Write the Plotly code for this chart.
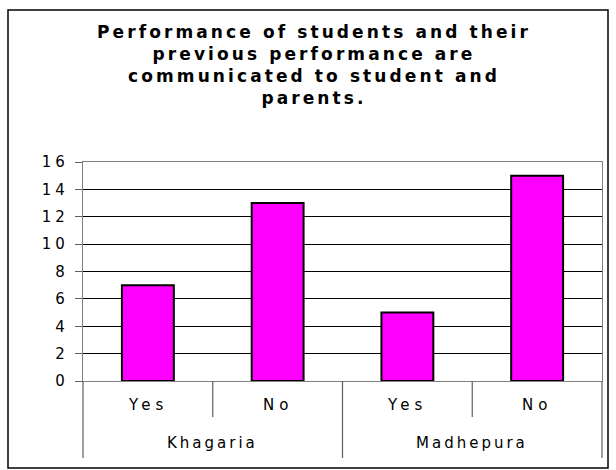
import plotly.graph_objects as go

# Survey responses per district
districts = ["Khagaria", "Madhepura"]
responses = ["Yes", "No"]
counts = [7, 13, 5, 15]  # Khagaria Yes/No, Madhepura Yes/No

y_ticks = [0, 2, 4, 6, 8, 10, 12, 14, 16]

title_lines = [
    "Performance of students and their",
    "previous performance are",
    "communicated to student and",
    "parents.",
]

W, H = 616, 470
L, R, T, B = 83, 14, 162, 89
plot_w = W - L - R
plot_h = H - T - B

FONT = "DejaVu Sans"


def spaced(text, px):
    return f'<span style="letter-spacing:{px}px">{text}</span>'


n = len(counts)
xs = list(range(n))

fig = go.Figure(
    go.Bar(
        x=xs,
        y=counts,
        marker=dict(color="#FF00FF", line=dict(color="#000000", width=2)),
        width=0.4,
        hoverinfo="skip",
    )
)

annotations = []
# first row: response labels under each bar
for i in xs:
    annotations.append(dict(
        x=i, xref="x", y=-24 / plot_h, yref="paper",
        text=spaced(responses[i % len(responses)], 5),
        showarrow=False, xanchor="center", yanchor="middle",
        font=dict(family=FONT, size=15, color="#000"),
    ))
# second row: district names centred under their pair of bars
per = len(responses)
for g, name in enumerate(districts):
    centre = (xs[g * per] + xs[g * per + per - 1]) / 2
    annotations.append(dict(
        x=centre, xref="x", y=-62 / plot_h, yref="paper",
        text=spaced(name, 3),
        showarrow=False, xanchor="center", yanchor="middle",
        font=dict(family=FONT, size=15, color="#000"),
    ))

shapes = []
# separators: short ones between responses, long ones between districts
for k in range(n + 1):
    long_line = k % per == 0
    shapes.append(dict(
        type="line", xref="paper", yref="paper",
        x0=k / n, x1=k / n, y0=0, y1=(-77 if long_line else -36) / plot_h,
        line=dict(color="#606060", width=1.2),
    ))
# chart frame
shapes.append(dict(
    type="rect", xref="paper", yref="paper",
    x0=(8 - L) / plot_w, x1=(608 - L) / plot_w,
    y0=(H - B - 468) / plot_h, y1=(H - B - 10) / plot_h,
    line=dict(color="#000000", width=1.5), fillcolor="rgba(0,0,0,0)",
    layer="below",
))

fig.update_layout(
    width=W, height=H,
    margin=dict(l=L, r=R, t=T, b=B),
    paper_bgcolor="white", plot_bgcolor="white",
    showlegend=False,
    title=dict(
        text="<br>".join(spaced(line, 3.1) for line in title_lines),
        xref="container", yref="container",
        x=314 / W, xanchor="center",
        y=1 - 38 / H, yanchor="top",
        font=dict(family=FONT, size=17, color="#000", weight="bold"),
    ),
    xaxis=dict(
        range=[-0.5, n - 0.5],
        showticklabels=False, showgrid=False, zeroline=False,
        showline=True, linecolor="#808080", linewidth=1.2, mirror=True,
        ticks="",
    ),
    yaxis=dict(
        range=[0, 16],
        tickvals=y_ticks,
        ticktext=[spaced(str(v), 4) for v in y_ticks],
        tickfont=dict(family=FONT, size=15, color="#000"),
        ticks="outside", ticklen=7, tickcolor="#606060", tickwidth=1,
        ticklabelstandoff=3,
        showgrid=True, gridcolor="#000000", gridwidth=1,
        zeroline=True, zerolinecolor="#000000", zerolinewidth=1.2,
        showline=True, linecolor="#808080", linewidth=1.2, mirror=True,
    ),
    annotations=annotations,
    shapes=shapes,
)

fig.write_html("out.html")
